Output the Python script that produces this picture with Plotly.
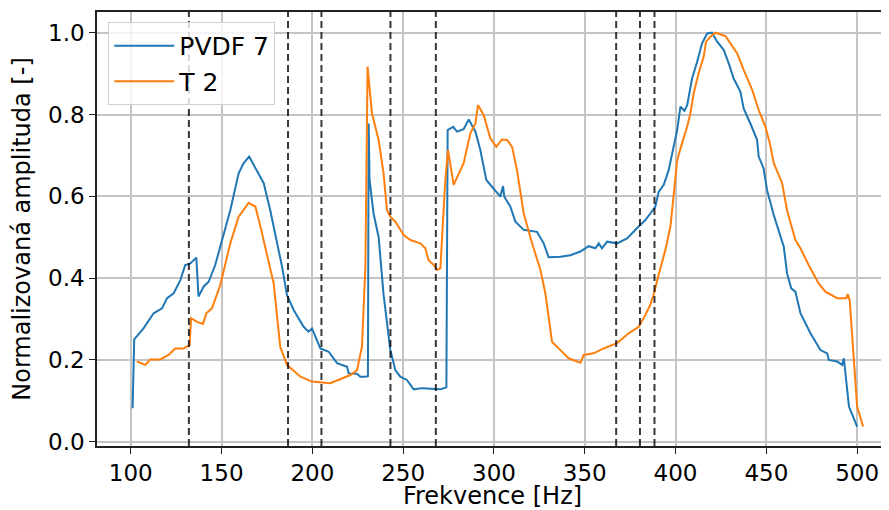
import plotly.graph_objs as go

# PVDF 7 (modrá)
freq_pvdf = [101, 101.9, 107, 112.6, 117.2, 120, 123.6, 127.3, 130, 132.8, 136.1, 137.3, 140.1,
             142.9, 146.5, 149.3, 154.8, 159.4, 162, 165.2, 169.5, 173.2, 176.8, 180.5, 183.3,
             186, 189.7, 195.2, 197.9, 199.8, 204.4, 209, 213.6, 219.1, 220, 224.6, 226.4,
             229.2, 230.6, 231, 231.5, 233.7, 236.5, 239.2, 241.1, 242.9, 245.7, 248.4, 252.1,
             255.8, 260.4, 266.8, 270.5, 273.8, 274.5, 277.5, 279.7, 283.3, 286.1, 289.8,
             292.5, 295.8, 299.8, 303.5, 305, 305.7, 309, 311.8, 316.4, 323.7, 327.4, 330.1,
             336.6, 342.1, 347.6, 352.2, 355.9, 357.7, 359.5, 362.3, 367.8, 373.3, 379.7,
             383.4, 386.1, 388.9, 390.7, 393.5, 396.2, 399, 400.9, 402.7, 404.9, 406.4, 409.1,
             411.9, 414.6, 417.4, 420.1, 422.9, 426.5, 429.3, 432, 435.7, 437.5, 441.2, 444.9,
             445.8, 448.5, 450.4, 454.1, 459.6, 461.4, 463.7, 466, 468.8, 474.3, 479.8, 483.5,
             484.4, 489, 491.8, 492.7, 495.5, 500]
amp_pvdf = [0.082, 0.25, 0.277, 0.314, 0.326, 0.351, 0.363, 0.395, 0.432, 0.436, 0.45, 0.355, 0.379,
            0.391, 0.432, 0.477, 0.566, 0.656, 0.68, 0.697, 0.664, 0.632, 0.566, 0.485, 0.428,
            0.359, 0.322, 0.281, 0.269, 0.277, 0.228, 0.22, 0.192, 0.183, 0.167, 0.166, 0.159,
            0.159, 0.16, 0.778, 0.64, 0.558, 0.5, 0.36, 0.285, 0.225, 0.175, 0.159, 0.151,
            0.128, 0.131, 0.128, 0.128, 0.133, 0.762, 0.77, 0.758, 0.764, 0.788, 0.758,
            0.713, 0.64, 0.62, 0.599, 0.625, 0.599, 0.575, 0.538, 0.518, 0.513, 0.485, 0.451,
            0.452, 0.456, 0.465, 0.478, 0.473, 0.485, 0.473, 0.489, 0.485, 0.497, 0.526,
            0.542, 0.558, 0.575, 0.611, 0.628, 0.664, 0.721, 0.762, 0.819, 0.809, 0.823, 0.888,
            0.929, 0.974, 0.998, 1.0, 0.978, 0.958, 0.925, 0.888, 0.856, 0.815, 0.778, 0.738,
            0.697, 0.668, 0.615, 0.554, 0.477, 0.412, 0.375, 0.367, 0.314, 0.265, 0.224, 0.216,
            0.2, 0.196, 0.188, 0.204, 0.086, 0.037]

# T 2 (oranžová)
freq_t2 = [103.4, 108, 110.7, 116.2, 120.8, 124.5, 129.1, 132.4, 133.2, 136.5, 139.8, 141.6, 144.7,
           149.3, 154.8, 159.4, 164.9, 168.6, 171.5, 175.9, 178.7, 182.3, 186, 193.4, 199.8,
           209.9, 220.9, 224.6, 227.3, 229.2, 230.4, 232.8, 236.5, 239.2, 241.1, 242.9, 245.7,
           250.3, 254, 259.5, 262.2, 264, 266.8, 268.7, 270.5, 273.2, 274.7, 277.8, 280.6,
           283.3, 287, 289.8, 291.2, 294.3, 296.2, 298, 301.3, 304.4, 307.2, 310, 312.7,
           314.5, 316.4, 321, 325.6, 328.3, 332, 336.6, 341.1, 347.6, 349.4, 354.9, 360.4,
           367.8, 374.2, 379.7, 383.4, 386.1, 388, 390.7, 394.4, 397.2, 399, 400.9, 403.6,
           406.4, 408.2, 410, 412.7, 415.5, 416.8, 419.2, 422, 427.5, 430.2, 433.9, 437.5,
           442.2, 445.8, 449.5, 451.9, 454.1, 458.7, 461.4, 466, 468.8, 473.3, 478.8, 482.5,
           486.2, 489, 494.1, 494.8, 495.9, 498.1, 500, 503.3]
amp_t2 = [0.196, 0.188, 0.201, 0.201, 0.212, 0.228, 0.228, 0.236, 0.302, 0.293, 0.288, 0.314, 0.326,
          0.383, 0.485, 0.55, 0.584, 0.575, 0.524, 0.436, 0.387, 0.232, 0.188, 0.159, 0.147,
          0.143, 0.163, 0.175, 0.232, 0.428, 0.917, 0.803, 0.738, 0.656, 0.566, 0.55, 0.538,
          0.505, 0.493, 0.485, 0.473, 0.444, 0.432, 0.42, 0.424, 0.64, 0.713, 0.628, 0.656,
          0.681, 0.754, 0.778, 0.823, 0.799, 0.77, 0.742, 0.721, 0.739, 0.738, 0.721, 0.664,
          0.615, 0.558, 0.485, 0.42, 0.363, 0.244, 0.224, 0.204, 0.193, 0.212, 0.216, 0.228,
          0.241, 0.265, 0.281, 0.31, 0.335, 0.36, 0.408, 0.469, 0.526, 0.607, 0.689, 0.73,
          0.77, 0.803, 0.852, 0.901, 0.941, 0.978, 0.99, 1.0, 0.992, 0.974, 0.95, 0.909,
          0.86, 0.811, 0.77, 0.73, 0.681, 0.632, 0.566, 0.493, 0.473, 0.432, 0.387, 0.367,
          0.359, 0.351, 0.351, 0.361, 0.346, 0.208, 0.086, 0.037]

# svislé čáry
mode_freqs = [132, 186.6, 205, 243, 268, 367.3, 380.4, 388.4]

x_ticks = [100, 150, 200, 250, 300, 350, 400, 450, 500]
y_ticks = [0.0, 0.2, 0.4, 0.6, 0.8, 1.0]

font = 'DejaVu Sans'

fig = go.Figure(
    data=[
        go.Scatter(x=freq_pvdf, y=amp_pvdf, mode='lines', name='PVDF 7',
                   line=dict(color='#1f77b4', width=2)),
        go.Scatter(x=freq_t2, y=amp_t2, mode='lines', name='T 2',
                   line=dict(color='#ff7f0e', width=2)),
    ]
)

for f in mode_freqs:
    fig.add_vline(x=f, line=dict(color='rgba(0,0,0,0.78)', width=2, dash='7px,4px'))

# stránka má okraj 8 px, proto je obrázek o 8 px menší
fig.update_layout(
    width=881,
    height=502,
    plot_bgcolor='white',
    paper_bgcolor='white',
    font=dict(family=font, size=23, color='black'),
    margin=dict(l=89, r=1, t=4, b=64),
    legend=dict(
        x=0.0143, y=0.977, xanchor='left', yanchor='top',
        bgcolor='rgba(255,255,255,0.8)',
        bordercolor='#d0d0d0', borderwidth=1,
        font=dict(family=font, size=25),
        itemwidth=60,
    ),
)

fig.update_xaxes(
    range=[81.4, 517],
    tickvals=x_ticks,
    automargin=False,
    showgrid=True, gridcolor='#c4c4c4', gridwidth=1.5,
    showline=True, linecolor='#222', linewidth=1.5, mirror=True,
    ticks='outside', ticklen=6, tickcolor='#222',
    zeroline=False,
    title=dict(text='Frekvence [Hz]', font=dict(size=24), standoff=4),
)
fig.update_yaxes(
    range=[-0.0105, 1.0506],
    tickvals=y_ticks,
    tickformat='.1f',
    automargin=False,
    showgrid=True, gridcolor='#c4c4c4', gridwidth=1.5,
    showline=True, linecolor='#222', linewidth=1.5, mirror=True,
    ticks='outside', ticklen=6, tickcolor='#222',
    zeroline=False,
    title=dict(text='Normalizovaná amplituda [-]', font=dict(size=24), standoff=11),
)

fig.write_html('out.html')
